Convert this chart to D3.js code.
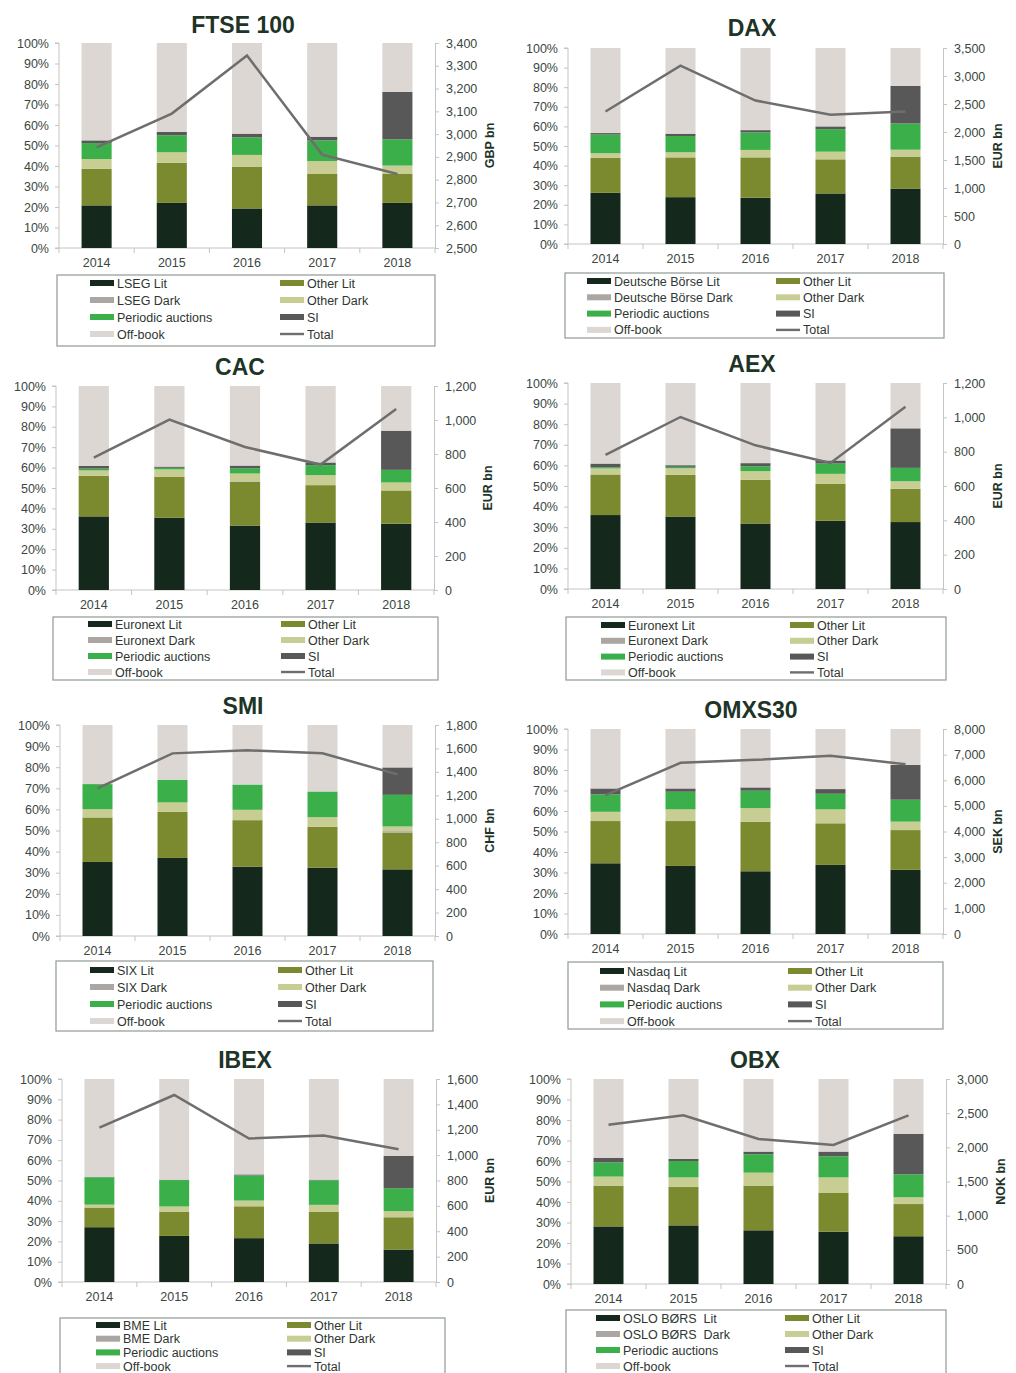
<!DOCTYPE html>
<html>
<head>
<meta charset="utf-8">
<script src="https://cdn.jsdelivr.net/npm/d3@7"></script>
<style>
  body { margin: 0; background: #fff; }
  svg { display: block; font-family: "Liberation Sans", Arial, sans-serif; }
  .axis path, .axis line { stroke: #c4c4c4; }
  .axis text { fill: #3b463f; font-size: 12.5px; }
</style>
</head>
<body>
<script>
var years = ["2014", "2015", "2016", "2017", "2018"];

// one row per index, in the same order as indexNames
var indexNames = ["FTSE 100", "DAX", "CAC", "AEX", "SMI", "OMXS30", "IBEX", "OBX"];
var venueNames = ["LSEG", "Deutsche Börse", "Euronext", "Euronext", "SIX", "Nasdaq", "BME", "OSLO BØRS "];
var units = ["GBP bn", "EUR bn", "EUR bn", "EUR bn", "CHF bn", "SEK bn", "EUR bn", "NOK bn"];
var rightMin = [2500, 0, 0, 0, 0, 0, 0, 0];
var rightMax = [3400, 3500, 1200, 1200, 1800, 8000, 1600, 3000];
var rightStep = [100, 500, 200, 200, 200, 1000, 200, 500];

// shares of trading, %
var litShare = [
  [20.8, 22.0, 19.3, 20.8, 22.0],
  [26.1, 23.9, 23.6, 25.8, 28.3],
  [36.1, 35.4, 31.6, 33.1, 32.5],
  [35.9, 35.2, 31.8, 33.1, 32.5],
  [35.1, 37.0, 32.9, 32.4, 31.6],
  [34.5, 33.2, 30.6, 33.7, 31.3],
  [27.0, 22.7, 21.6, 19.0, 16.0],
  [28.1, 28.6, 26.2, 25.5, 23.3]
];
var otherLitShare = [
  [17.9, 19.5, 20.4, 15.3, 14.1],
  [17.8, 20.3, 20.6, 17.4, 16.3],
  [19.9, 20.2, 21.4, 18.3, 16.3],
  [19.7, 20.2, 21.2, 17.9, 16.1],
  [21.1, 21.9, 22.0, 19.3, 17.3],
  [20.6, 21.9, 24.2, 20.3, 19.4],
  [9.7, 12.0, 15.7, 15.7, 15.9],
  [19.9, 18.7, 21.8, 18.9, 15.7]
];
var darkShare = [
  [0, 0, 0, 0, 0],
  [0, 0, 0, 0, 0],
  [0, 0, 0.3, 0, 0],
  [0, 0, 0, 0, 0],
  [0, 0, 0, 0, 0.8],
  [0, 0, 0, 0, 0],
  [0, 0, 0, 0, 0],
  [0, 0, 0, 0, 0]
];
var otherDarkShare = [
  [4.7, 5.2, 5.7, 6.3, 4.1],
  [2.4, 2.6, 3.8, 3.9, 3.5],
  [2.6, 3.5, 3.8, 4.9, 3.9],
  [2.9, 3.2, 4.2, 4.9, 3.7],
  [3.9, 4.4, 4.9, 4.6, 2.2],
  [4.5, 5.7, 6.6, 6.8, 4.1],
  [1.4, 2.5, 2.8, 3.3, 3.0],
  [4.4, 4.7, 6.3, 7.6, 3.3]
];
var auctionShare = [
  [7.8, 8.3, 8.6, 10.1, 12.8],
  [9.5, 8.3, 8.9, 11.5, 13.4],
  [0.9, 0.8, 2.6, 4.9, 6.2],
  [0.6, 0.7, 2.4, 5.0, 6.5],
  [11.9, 10.8, 12.0, 12.2, 15.0],
  [8.5, 8.6, 8.5, 7.6, 10.7],
  [13.5, 13.0, 12.4, 12.1, 11.3],
  [6.9, 8.0, 9.0, 10.3, 11.2]
];
var siShare = [
  [1.3, 1.6, 1.8, 1.8, 23.1],
  [0.8, 1.2, 1.2, 1.4, 19.2],
  [1.3, 0.6, 1.3, 1.3, 19.2],
  [1.8, 0.8, 1.5, 1.5, 19.2],
  [0, 0, 0, 0, 13.0],
  [2.9, 1.6, 1.6, 2.3, 17.0],
  [0.1, 0.2, 0.5, 0.3, 16.0],
  [2.3, 1.0, 1.3, 2.3, 19.8]
];
var offBookShare = [
  [47.5, 43.4, 44.2, 45.7, 23.9],
  [43.4, 43.7, 41.9, 40.0, 19.3],
  [39.2, 39.5, 39.0, 37.5, 21.9],
  [39.1, 39.9, 38.9, 37.6, 22.0],
  [28.0, 25.9, 28.2, 31.5, 20.1],
  [29.0, 29.0, 28.5, 29.3, 17.5],
  [48.3, 49.6, 47.0, 49.6, 37.8],
  [38.4, 39.0, 35.4, 35.4, 26.7]
];
// total turnover, local currency bn
var totalValue = [
  [2942, 3090, 3345, 2910, 2825],
  [2367, 3185, 2562, 2307, 2367],
  [779, 1002, 841, 738, 1065],
  [781, 1002, 837, 734, 1062],
  [1259, 1558, 1584, 1558, 1379],
  [5421, 6680, 6796, 6952, 6628],
  [1217, 1474, 1131, 1154, 1047],
  [2332, 2468, 2122, 2034, 2468]
];

var colors = {
  lit: "#15281c", otherLit: "#7b8a2e", dark: "#aca6a2", otherDark: "#c8cd94",
  pa: "#3bb04a", si: "#585858", off: "#dcd7d3", total: "#6e6e6e"
};

// panel geometry: plot box, title baseline, unit x, legend box
var panels = [
  {l: 59,  r: 435, t: 43,   b: 248,  ty: 33,   tx: 243, ux: 490,  lx0: 57,  lx1: 435, ly0: 275,  ly1: 346,  ry: 283,  rg: 17,   sl: 90,  sr: 280},
  {l: 568, r: 943, t: 48,   b: 244,  ty: 36,   tx: 752, ux: 998,  lx0: 565, lx1: 944, ly0: 273,  ly1: 338,  ry: 281,  rg: 16.3, sl: 587, sr: 776},
  {l: 56,  r: 434, t: 386,  b: 590,  ty: 375,  tx: 240, ux: 488,  lx0: 53,  lx1: 438, ly0: 617,  ly1: 680,  ry: 624,  rg: 16,   sl: 88,  sr: 281},
  {l: 568, r: 943, t: 383,  b: 589,  ty: 372,  tx: 752, ux: 998,  lx0: 566, lx1: 946, ly0: 617,  ly1: 680,  ry: 625,  rg: 15.8, sl: 601, sr: 790},
  {l: 60,  r: 435, t: 725,  b: 936,  ty: 714,  tx: 243, ux: 490,  lx0: 56,  lx1: 433, ly0: 961,  ly1: 1031, ry: 970,  rg: 17,   sl: 90,  sr: 278},
  {l: 568, r: 943, t: 729,  b: 934,  ty: 718,  tx: 751, ux: 998,  lx0: 568, lx1: 943, ly0: 962,  ly1: 1029, ry: 971,  rg: 16.7, sl: 600, sr: 788},
  {l: 62,  r: 436, t: 1079, b: 1282, ty: 1068, tx: 245, ux: 490,  lx0: 60,  lx1: 445, ly0: 1318, ly1: 1390, ry: 1325, rg: 13.7, sl: 96,  sr: 287},
  {l: 571, r: 946, t: 1079, b: 1284, ty: 1068, tx: 755, ux: 1001, lx0: 566, lx1: 946, ly0: 1310, ly1: 1390, ry: 1318, rg: 16,   sl: 596, sr: 785}
];

var svg = d3.select("body").append("svg")
    .attr("width", 1016)
    .attr("height", 1373);

var fmt = d3.format(",");

panels.forEach(function(p, i) {
  var g = svg.append("g");

  var x = d3.scaleBand().domain(years).range([p.l, p.r]).paddingInner(0.6).paddingOuter(0.3);
  var y = d3.scaleLinear().domain([0, 100]).range([p.b, p.t]);
  var y2 = d3.scaleLinear().domain([rightMin[i], rightMax[i]]).range([p.b, p.t]);

  var keys = ["lit", "otherLit", "dark", "otherDark", "pa", "si", "off"];
  var rows = years.map(function(yr, j) {
    return {
      year: yr,
      lit: litShare[i][j], otherLit: otherLitShare[i][j], dark: darkShare[i][j],
      otherDark: otherDarkShare[i][j], pa: auctionShare[i][j], si: siShare[i][j],
      off: offBookShare[i][j]
    };
  });
  var stack = d3.stack().keys(keys)(rows);

  // axes first so bars sit on top of the baseline
  var step = x.step();
  g.append("g").attr("class", "axis")
      .attr("transform", "translate(" + p.l + ",0)")
      .call(d3.axisLeft(y).tickValues(d3.range(0, 101, 10)).tickSize(4).tickPadding(6)
        .tickFormat(function(d) { return d + "%"; }))
      .call(function(a) { a.select(".domain").attr("d", "M-4," + p.b + "H0V" + p.t + "H-4"); });

  var rTicks = d3.range(rightMin[i], rightMax[i] + 1, rightStep[i]);
  g.append("g").attr("class", "axis")
      .attr("transform", "translate(" + p.r + ",0)")
      .call(d3.axisRight(y2).tickValues(rTicks).tickSize(4).tickPadding(7).tickFormat(fmt));

  var xa = g.append("g").attr("class", "axis")
      .attr("transform", "translate(0," + p.b + ")")
      .call(d3.axisBottom(x).tickSize(0).tickPadding(10));
  xa.select(".domain").attr("d", "M" + p.l + ",0H" + p.r);
  xa.selectAll(".sep")
    .data(d3.range(years.length + 1))
    .enter().append("line")
      .attr("x1", function(k) { return p.l + k * step; })
      .attr("x2", function(k) { return p.l + k * step; })
      .attr("y1", 0).attr("y2", 5)
      .attr("stroke", "#c4c4c4");

  g.append("g").selectAll("g")
    .data(stack)
    .enter().append("g")
      .attr("fill", function(s) { return colors[s.key]; })
    .selectAll("rect")
    .data(function(s) { return s; })
    .enter().append("rect")
      .attr("x", function(d) { return x(d.data.year); })
      .attr("width", x.bandwidth())
      .attr("y", function(d) { return y(d[1]); })
      .attr("height", function(d) { return y(d[0]) - y(d[1]); });

  var line = d3.line()
      .x(function(d, j) { return x(years[j]) + x.bandwidth() / 2; })
      .y(function(d) { return y2(d); });
  g.append("path")
      .attr("d", line(totalValue[i]))
      .attr("fill", "none")
      .attr("stroke", colors.total)
      .attr("stroke-width", 2.5);

  // title and unit
  g.append("text")
      .attr("x", p.tx).attr("y", p.ty)
      .attr("text-anchor", "middle")
      .attr("font-size", 23).attr("font-weight", "bold")
      .attr("fill", "#1d3427")
      .text(indexNames[i]);

  g.append("text")
      .attr("transform", "translate(" + p.ux + "," + ((p.t + p.b) / 2) + ") rotate(-90)")
      .attr("text-anchor", "middle")
      .attr("dy", "0.35em")
      .attr("font-size", 12.5).attr("font-weight", "bold")
      .attr("fill", "#1d3427")
      .text(units[i]);

  // legend
  g.append("rect")
      .attr("x", p.lx0).attr("y", p.ly0)
      .attr("width", p.lx1 - p.lx0).attr("height", p.ly1 - p.ly0)
      .attr("fill", "none").attr("stroke", "#8f9a93").attr("stroke-width", 1.2);

  var items = [
    {label: venueNames[i] + " Lit", key: "lit", col: 0, row: 0},
    {label: venueNames[i] + " Dark", key: "dark", col: 0, row: 1},
    {label: "Periodic auctions", key: "pa", col: 0, row: 2},
    {label: "Off-book", key: "off", col: 0, row: 3},
    {label: "Other Lit", key: "otherLit", col: 1, row: 0},
    {label: "Other Dark", key: "otherDark", col: 1, row: 1},
    {label: "SI", key: "si", col: 1, row: 2},
    {label: "Total", key: "total", col: 1, row: 3}
  ];
  var li = g.append("g").selectAll("g")
    .data(items)
    .enter().append("g")
      .attr("transform", function(d) {
        return "translate(" + (d.col ? p.sr : p.sl) + "," + (p.ry + d.row * p.rg) + ")";
      });
  li.append("rect")
      .attr("x", 0).attr("width", 24)
      .attr("y", function(d) { return d.key === "total" ? -1.2 : -3; })
      .attr("height", function(d) { return d.key === "total" ? 2.4 : 6; })
      .attr("fill", function(d) { return colors[d.key]; });
  li.append("text")
      .attr("x", 27).attr("dy", "0.36em")
      .attr("font-size", 12.5)
      .attr("fill", "#2e3631")
      .style("white-space", "pre")
      .text(function(d) { return d.label; });
});
</script>
</body>
</html>
